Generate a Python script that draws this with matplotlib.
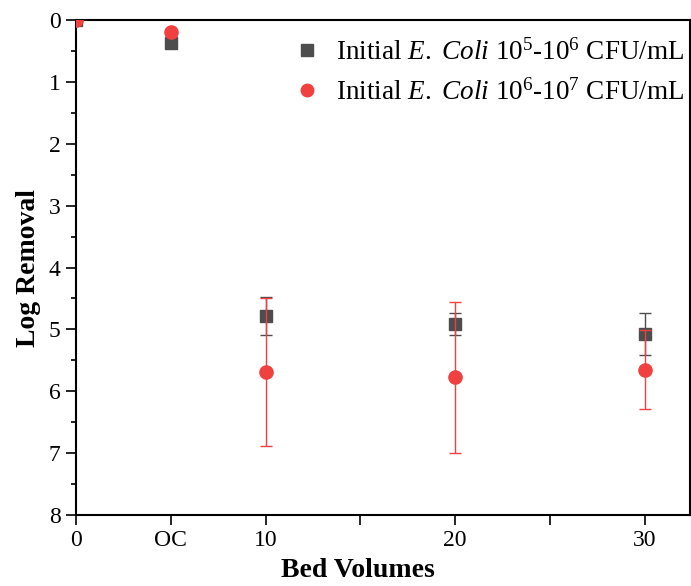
import matplotlib
matplotlib.use("Agg")
import matplotlib.pyplot as plt
from matplotlib.ticker import MultipleLocator, FixedLocator
from matplotlib.lines import Line2D

plt.rcParams['font.family'] = ['Liberation Serif', 'DejaVu Serif']
plt.rcParams['mathtext.fontset'] = 'custom'
plt.rcParams['mathtext.rm'] = 'Liberation Serif'
plt.rcParams['mathtext.it'] = 'Liberation Serif:italic'

# Data
x_pos = [0, 5, 10, 20, 30]
x_labels = ['0', 'OC', '10', '20', '30']

low_vals = [0.0, 0.37, 4.78, 4.91, 5.08]
low_err = [0.0, 0.0, 0.31, 0.18, 0.34]

high_vals = [0.0, 0.19, 5.69, 5.77, 5.65]
high_err = [0.0, 0.0, 1.20, 1.22, 0.64]

label_low = r'Initial $\mathit{E.}$ $\mathit{Coli}$ 10$^{5}$-10$^{6}$ CFU/mL'
label_high = r'Initial $\mathit{E.}$ $\mathit{Coli}$ 10$^{6}$-10$^{7}$ CFU/mL'

gray = '#4d4d4d'
red = '#f04040'

fig = plt.figure(figsize=(6.91, 5.86), dpi=100)
ax = fig.add_axes([0.110, 0.121, 0.8886, 0.845])

ax.errorbar(x_pos, low_vals, yerr=low_err, fmt='s', color=gray, ecolor=gray,
            markersize=8, capsize=4, elinewidth=1, capthick=1, zorder=3)
ax.errorbar(x_pos, high_vals, yerr=high_err, fmt='o', color=red, ecolor=red,
            markersize=9.5, capsize=4, elinewidth=1, capthick=1, zorder=4)

ax.set_xlim(0, 32.4)
ax.set_ylim(8, 0)

ax.xaxis.set_major_locator(FixedLocator(x_pos))
ax.set_xticklabels(x_labels)
ax.xaxis.set_minor_locator(FixedLocator([15, 25]))
ax.yaxis.set_major_locator(MultipleLocator(1))
ax.yaxis.set_minor_locator(MultipleLocator(0.5))

ax.tick_params(which='major', direction='out', length=7, width=1.2, labelsize=17, pad=4)
ax.tick_params(which='minor', direction='out', length=3.6, width=1.2)
ax.tick_params(axis='x', which='minor', length=7)
ax.tick_params(top=False, right=False)
for s in ax.spines.values():
    s.set_linewidth(1.5)

ax.set_xlabel('Bed Volumes', fontsize=20, fontweight='bold')
ax.xaxis.set_label_coords(0.459, -0.087)
ax.set_ylabel('Log Removal', fontsize=20, fontweight='bold', labelpad=6)

handles = [
    Line2D([], [], marker='s', linestyle='none', color=gray, markersize=8),
    Line2D([], [], marker='o', linestyle='none', color=red, markersize=9),
]
leg = ax.legend(handles, [label_low, label_high], loc='upper right',
                bbox_to_anchor=(1.013, 0.988), frameon=False,
                fontsize=19.5, handletextpad=0.55, borderaxespad=0.05,
                labelspacing=0.5, handlelength=1.1, borderpad=0.45)

fig.savefig('out.png', dpi=100)
